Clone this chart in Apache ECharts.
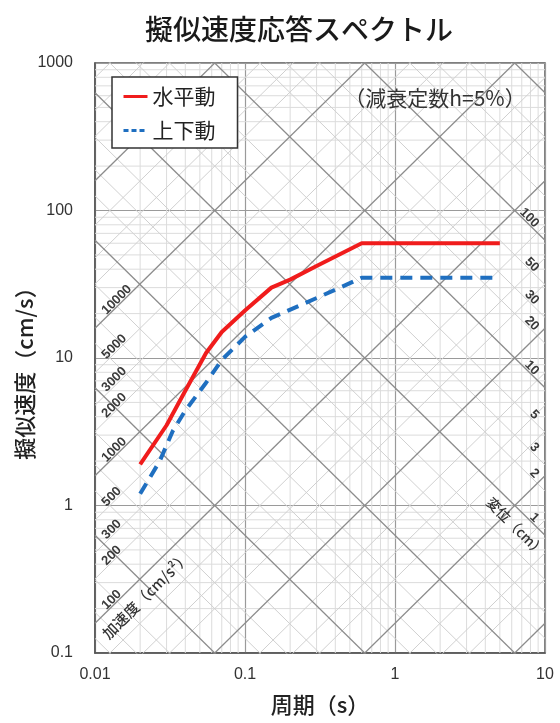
<!DOCTYPE html>
<html><head><meta charset="utf-8">
<script src="https://cdn.jsdelivr.net/npm/echarts@6/dist/echarts.min.js"></script>
<style>html,body{margin:0;padding:0;background:#fff}#c{width:560px;height:723px}</style>
</head><body><div id="c"></div>
<script>
// ---- data ----
const periodTicks = [0.01, 0.1, 1, 10];
const velocityTicks = [0.1, 1, 10, 100, 1000];
const horizName = '水平動';
const horizT  = [0.02, 0.03, 0.04, 0.055, 0.07, 0.1, 0.15, 0.2, 0.3, 0.6, 5];
const horizSv = [1.9, 3.5, 6.0, 10.8, 15, 21, 30, 34, 42, 60, 60];
const vertName = '上下動';
const vertT  = [0.02, 0.027, 0.033, 0.04, 0.055, 0.07, 0.1, 0.15, 0.25, 0.4, 0.6, 5];
const vertSv = [1.2, 2.0, 3.2, 4.4, 6.8, 9.7, 13.9, 18.7, 23.5, 29, 35, 35];
const accelLabels = [100, 200, 300, 500, 1000, 2000, 3000, 5000, 10000];
const dispLabels = [1, 2, 3, 5, 10, 20, 30, 50, 100];
const lineMultiples = [1, 2, 3, 5];
const accelExps = [-1, 0, 1, 2, 3, 4, 5];
const dispExps = [-4, -3, -2, -1, 0, 1, 2, 3];
const minorMultiples = [2, 3, 4, 5, 6, 7, 8, 9];
const titleText = '擬似速度応答スペクトル';
const yName = '擬似速度（cm/s）';
const xName = '周期（s）';
const noteText = '（減衰定数h=5%）';
const accelName = '加速度（cm/s²）';
const dispName = '変位（cm）';

// ---- build ----
const TWO_PI = 2 * Math.PI;
const T0 = 0.01, T1 = 10, V0 = 0.1, V1 = 1000;
const CJK = '"Noto Sans CJK JP", sans-serif';
const NUM = '"Liberation Sans", Arial, sans-serif';
const chart = echarts.init(document.getElementById('c'));

function gridSeries(pts, color, width, z) {
  return { type: 'line', data: pts, symbol: 'none', silent: true, clip: true,
    lineStyle: { color: color, width: width }, z: z, animation: false,
    emphasis: { disabled: true }, tooltip: { show: false } };
}
const series = [];
[0.01, 0.1, 1].forEach(d => minorMultiples.forEach(k => {
  series.push(gridSeries([[k * d, V0], [k * d, V1]], '#dcdcdc', 1, 1));
}));
[0.1, 1, 10, 100].forEach(d => minorMultiples.forEach(k => {
  series.push(gridSeries([[T0, k * d], [T1, k * d]], '#dcdcdc', 1, 1));
}));
accelExps.forEach(e => lineMultiples.forEach(m => {
  const A = m * Math.pow(10, e);
  const major = m === 1;
  series.push(gridSeries([[T0, A * T0 / TWO_PI], [T1, A * T1 / TWO_PI]],
    major ? '#8c8c8c' : '#d0d0d0', major ? 1.3 : 1, major ? 3 : 2));
}));
dispExps.forEach(e => lineMultiples.forEach(m => {
  const D = m * Math.pow(10, e);
  const major = m === 1;
  series.push(gridSeries([[T0, TWO_PI * D / T0], [T1, TWO_PI * D / T1]],
    major ? '#8c8c8c' : '#d0d0d0', major ? 1.3 : 1, major ? 3 : 2));
}));
series.push({ type: 'line', name: horizName, data: horizT.map((t, i) => [t, horizSv[i]]),
  symbol: 'none', lineStyle: { color: '#f01c1c', width: 4 }, itemStyle: { color: '#f01c1c', opacity: 0 }, z: 10 });
series.push({ type: 'line', name: vertName, data: vertT.map((t, i) => [t, vertSv[i]]),
  symbol: 'none', lineStyle: { color: '#1f6fc0', width: 4, type: [12, 8] }, itemStyle: { color: '#1f6fc0', opacity: 0 }, z: 10 });

function nearestTick(v, ticks) {
  let best = ticks[0];
  ticks.forEach(t => { if (Math.abs(Math.log10(t) - Math.log10(v)) < Math.abs(Math.log10(best) - Math.log10(v))) best = t; });
  return String(best);
}

chart.setOption({
  animation: false,
  grid: { left: 95, right: 15, top: 63, bottom: 70, show: true, borderColor: '#555', borderWidth: 1.5, backgroundColor: 'transparent' },
  xAxis: { type: 'log', logBase: 10, min: T0, max: T1,
    axisLine: { show: true, lineStyle: { color: '#555', width: 1.5 } },
    axisTick: { show: false },
    splitLine: { show: true, lineStyle: { color: '#9a9a9a', width: 1.2 } },
    axisLabel: { margin: 14, fontSize: 16, color: '#333', fontFamily: NUM, formatter: v => nearestTick(v, periodTicks) } },
  yAxis: { type: 'log', logBase: 10, min: V0, max: V1,
    axisLine: { show: true, lineStyle: { color: '#555', width: 1.5 } },
    axisTick: { show: false },
    splitLine: { show: true, lineStyle: { color: '#9a9a9a', width: 1.2 } },
    axisLabel: { margin: 22, fontSize: 16, color: '#333', fontFamily: NUM, formatter: v => nearestTick(v, velocityTicks) } },
  legend: { data: [
      { name: horizName, itemStyle: { opacity: 0 }, lineStyle: { width: 3 } },
      { name: vertName, itemStyle: { opacity: 0 }, lineStyle: { width: 3, type: [5, 3] } }
    ],
    orient: 'vertical', left: 112, top: 77,
    padding: [9, 22, 7, 10], itemGap: 13, itemWidth: 24, itemHeight: 14,
    itemStyle: { opacity: 0 },
    borderColor: '#333', borderWidth: 1.5, backgroundColor: '#fff', borderRadius: 0,
    textStyle: { fontSize: 21, color: '#222', fontFamily: CJK }, selectedMode: false },
  series: series
});

function px(T, v) { return chart.convertToPixel({ gridIndex: 0 }, [T, v]); }
function fromPx(x, y) { return chart.convertFromPixel({ gridIndex: 0 }, [x, y]); }
const graphics = [];
function txt(text, x, y, rot, size, font, color, weight, z) {
  graphics.push({ type: 'text', x: x, y: y, rotation: rot || 0, z: z || 50, silent: true,
    style: { text: text, fontSize: size, fontFamily: font, fill: color, align: 'center', verticalAlign: 'middle', fontWeight: weight || 'normal' } });
}
txt(titleText, 299, 29, 0, 28, CJK, '#1a1a1a', 500);
txt(yName, 25, 368, Math.PI / 2, 22, CJK, '#222', 500);
txt(xName, 320, 705, 0, 22, CJK, '#222', 500);
txt(noteText, 435, 98, 0, 21, CJK, '#333');

accelLabels.forEach(A => {
  const L = String(A).length * 0.556 * 13;
  const cx = 104 + L * 0.354;
  const T = fromPx(cx, 300)[0];
  const yl = px(T, A * T / TWO_PI)[1];
  txt(String(A), cx, yl - 7, Math.PI / 4, 13, NUM, '#3a3a3a', 'bold');
});
dispLabels.forEach(D => {
  const L = String(D).length * 0.556 * 13;
  const cx = 537 - L * 0.354;
  const T = fromPx(cx, 300)[0];
  const yl = px(T, TWO_PI * D / T)[1];
  txt(String(D), cx, yl - 7, -Math.PI / 4, 13, NUM, '#3a3a3a', 'bold');
});
{
  const cx = 146;
  const T = fromPx(cx, 300)[0];
  const yl = px(T, 100 * T / TWO_PI)[1];
  txt(accelName, cx, yl + 22, Math.PI / 4, 15, CJK, '#333', 500);
}
{
  const cx = 516;
  const T = fromPx(cx, 300)[0];
  const yl = px(T, TWO_PI * 1 / T)[1];
  txt(dispName, cx, yl + 20, -Math.PI / 4, 14, CJK, '#333', 500);
}
chart.setOption({ graphic: graphics });
</script>
</body></html>
